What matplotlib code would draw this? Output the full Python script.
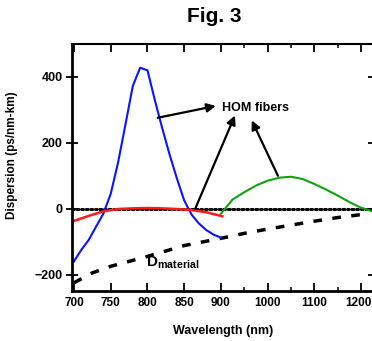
import numpy as np
import matplotlib
matplotlib.use("Agg")
import matplotlib.pyplot as plt
from matplotlib.ticker import FixedLocator
from matplotlib.transforms import ScaledTranslation

plt.rcParams["font.family"] = ["Liberation Sans", "DejaVu Sans"]
plt.rcParams["font.weight"] = "bold"
plt.rcParams["axes.labelweight"] = "bold"
plt.rcParams["mathtext.fontset"] = "custom"
plt.rcParams["mathtext.rm"] = "Liberation Sans:bold"
plt.rcParams["mathtext.bf"] = "Liberation Sans:bold"

# HOM fiber 1 (blue), fiber 2 (red), fiber 3 (green), material dispersion
blue_wl = [700, 710, 720, 730, 740, 750, 760, 770, 780, 790, 800, 810, 820,
           830, 840, 850, 860, 870, 880, 890, 900]
blue_d = [-160, -125, -95, -55, -15, 45, 140, 255, 372, 428, 420, 330, 245,
          165, 92, 25, -18, -45, -65, -79, -88]

red_wl = [700, 720, 740, 760, 780, 800, 820, 840, 860, 880, 903]
red_d = [-37, -22, -8, -1, 1, 2, 1, -1, -4, -11, -23]

green_wl = [900, 925, 950, 975, 1000, 1025, 1050, 1075, 1100, 1125, 1150,
            1175, 1200, 1228]
green_d = [-15, 28, 50, 70, 85, 94, 97, 90, 75, 58, 40, 20, 3, -10]

mat_wl = [700, 725, 750, 775, 800, 850, 900, 950, 1000, 1050, 1100, 1150, 1200]
mat_d = [-225, -195, -175, -160, -145, -112, -90, -75, -62, -50, -38, -27, -18]

major_ticks = [700, 750, 800, 850, 900, 1000, 1100, 1200]
minor_ticks = [950, 1050, 1150]
y_ticks = [-200, 0, 200, 400]


# axis is stretched 700-900 and compressed above 900
def fwd(x):
    x = np.asarray(x, dtype=float)
    return np.where(x <= 900, x, 900 + (x - 900) * 0.635)


def inv(u):
    u = np.asarray(u, dtype=float)
    return np.where(u <= 900, u, 900 + (u - 900) / 0.635)


fig = plt.figure(figsize=(3.72, 3.41), dpi=100)
ax = fig.add_axes([0.1935, 0.1466, 0.812, 0.7244])
ax.set_xscale("function", functions=(fwd, inv))

ax.plot([697, 1228], [0, 0], color="black", lw=2.2, linestyle=(0, (0.6, 0.9)),
        dash_capstyle="round")
ax.plot(mat_wl, mat_d, color="black", lw=2.5, dashes=(2.5, 3))
ax.plot(blue_wl, blue_d, color="#0a14ff", lw=1.5)
ax.plot(red_wl, red_d, color="#ff1a1a", lw=1.8)
ax.plot(green_wl, green_d, color="#12a012", lw=1.5)

arrow = dict(arrowstyle="-|>", color="black", lw=1.6, mutation_scale=13,
             shrinkA=0, shrinkB=0)
ax.annotate("", xy=(893, 312), xytext=(814, 276), arrowprops=arrow)
ax.annotate("", xy=(930, 283), xytext=(865, 0), arrowprops=arrow)
ax.annotate("", xy=(966, 268), xytext=(1022, 100), arrowprops=arrow)
ax.text(902, 306, "HOM fibers", fontsize=9, ha="left", va="center")
ax.text(798, -165, r"$\mathrm{D}_{\mathrm{material}}$", fontsize=11,
        ha="left", va="center")

ax.set_xlim(697.3, 1228)
ax.set_ylim(-250, 500)
ax.xaxis.set_major_locator(FixedLocator(major_ticks))
ax.xaxis.set_minor_locator(FixedLocator(minor_ticks))
ax.set_xticklabels([str(t) for t in major_ticks])
ax.set_yticks(y_ticks)
ax.yaxis.set_minor_locator(FixedLocator([]))

ax.tick_params(axis="x", which="major", direction="in", top=True, length=6,
               width=1.3, labelsize=8.5, pad=4)
ax.tick_params(axis="x", which="minor", direction="in", top=True, length=3,
               width=1.1)
ax.tick_params(axis="y", which="major", direction="inout", right=True,
               length=9, width=1.3, labelsize=9, pad=2)

# keep the last label inside the picture
last = ax.get_xticklabels()[-1]
last.set_transform(last.get_transform()
                   + ScaledTranslation(-0.025, 0, fig.dpi_scale_trans))

ax.spines["left"].set_linewidth(2.0)
ax.spines["bottom"].set_linewidth(2.0)
ax.spines["top"].set_linewidth(1.5)
ax.spines["right"].set_visible(False)

ax.set_xlabel("Wavelength (nm)", fontsize=9, labelpad=12)
ax.set_ylabel("Dispersion (ps/nm-km)", fontsize=8.5)
ax.yaxis.set_label_coords(-0.18, 0.55)

fig.text(0.575, 1 - 17 / 341, "Fig. 3", fontsize=15, ha="center", va="center")

fig.savefig("out.png", dpi=100)
